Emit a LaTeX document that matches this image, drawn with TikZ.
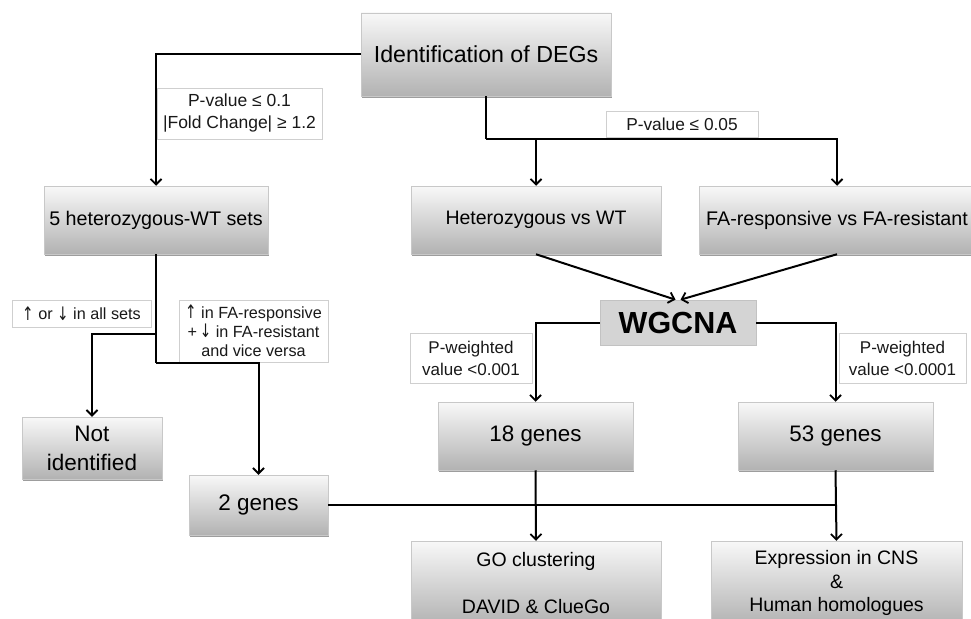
\documentclass[tikz,border=0pt]{standalone}
\usepackage{fontspec}
\setmainfont{Liberation Sans}
\newfontfamily\arrfont{DejaVu Sans}
\usetikzlibrary{arrows.meta,shadows,calc}
\definecolor{boxtop}{HTML}{F8F8F8}
\definecolor{boxmid}{HTML}{E4E4E4}
\definecolor{boxbot}{HTML}{B2B2B2}
\definecolor{boxedge}{HTML}{C8C8C8}
\definecolor{wgfill}{HTML}{D4D4D4}
\definecolor{wgedge}{HTML}{C2C2C2}
\definecolor{condedge}{HTML}{CFCFCF}
\newcommand{\fs}[2]{\fontsize{#1}{#2}\selectfont}
\newcommand{\upar}{\raisebox{-0.5pt}{\scalebox{0.85}[1.15]{\arrfont ↑}}}
\newcommand{\dnar}{\raisebox{-0.5pt}{\scalebox{0.85}[1.15]{\arrfont ↓}}}
\tikzset{
  mainbox/.style={rectangle, inner sep=0pt, top color=boxtop, middle color=boxmid, bottom color=boxbot,
    draw=boxedge, line width=0.5pt, align=center, text=black,
    drop shadow={shadow xshift=0.6pt, shadow yshift=-1.6pt, fill=gray!85, opacity=0.9}},
  condbox/.style={rectangle, inner sep=0pt, fill=white, draw=condedge, line width=0.8pt, align=center, text=black!90},
  conn/.style={line width=2pt, black},
  arr/.style={conn, -{Straight Barb[length=5.5pt,width=11pt,line width=1.8pt]}}
}
\begin{document}
\begin{tikzpicture}[x=1pt,y=-1pt]
\useasboundingbox (0,0) rectangle (971,618);
\fill[white] (0,0) rectangle (971,618);
\clip (0,0) rectangle (971,618);

% main boxes
\node[mainbox, minimum width=250pt, minimum height=83pt, font=\fs{23.2}{28}] (ident) at (486,54.5) {Identification of DEGs};
\node[mainbox, minimum width=224pt, minimum height=68pt, font=\fs{19.7}{24}] (het5) at (156,220) {5 heterozygous-WT sets};
\node[mainbox, minimum width=250pt, minimum height=68pt, font=\fs{19.5}{24}] (hetwt) at (536,220) {Heterozygous vs WT};
\node[mainbox, minimum width=276pt, minimum height=68pt, font=\fs{19.7}{24}] (fa) at (837,220) {FA-responsive vs FA-resistant};
\node[rectangle, inner sep=0pt, fill=wgfill, draw=wgedge, line width=0.6pt, minimum width=156pt, minimum height=45pt, font=\fs{30.5}{34}\bfseries] (wgcna) at (678,322.5) {WGCNA};
\node[mainbox, minimum width=195pt, minimum height=68pt, font=\fs{22.4}{27}] (g18) at (535.5,436) {18 genes};
\node[mainbox, minimum width=195pt, minimum height=68pt, font=\fs{22.4}{27}] (g53) at (835.5,436) {53 genes};
\node[mainbox, minimum width=140pt, minimum height=62pt, font=\fs{22.5}{29}] (notid) at (92,448) {Not\\identified};
\node[mainbox, minimum width=139pt, minimum height=60pt, font=\fs{22.5}{27}] (g2) at (258.5,505) {2 genes};
\node[mainbox, minimum width=250pt, minimum height=84pt, font=\fs{19.5}{23.5}] (go) at (536,583) {GO clustering\\[23.5pt]DAVID \& ClueGo};
\node[mainbox, minimum width=251pt, minimum height=84pt, font=\fs{19.5}{23.5}] (expr) at (836.5,583) {Expression in CNS\\\&\\Human homologues};

% condition labels
\node[condbox, minimum width=165pt, minimum height=51pt, font=\fs{17.5}{22}] (l1) at (239.5,113.5) {P-value ≤ 0.1\\|Fold Change| ≥ 1.2};
\node[condbox, minimum width=152pt, minimum height=26pt, font=\fs{17.3}{21}] (l2) at (682,124) {P-value ≤ 0.05};
\node[condbox, minimum width=139pt, minimum height=27pt, font=\fs{16.2}{19}] (l3) at (81.5,313.5) {\upar{} or \dnar{} in all sets};
\node[condbox, minimum width=149pt, minimum height=62pt, font=\fs{16.2}{19}] (l4) at (253.5,331) {\upar{} in FA-responsive\\+\,\dnar{} in FA-resistant\\and vice versa};
\node[condbox, minimum width=122pt, minimum height=50pt, font=\fs{17}{22}] (l5) at (471,358) {P-weighted\\value <0.001};
\node[condbox, minimum width=127pt, minimum height=50pt, font=\fs{17}{22}] (l6) at (902.5,358) {P-weighted\\value <0.0001};

% junctions
\coordinate (jA) at (486,139);
\coordinate (jB) at (156,334);
\coordinate (jC) at (156,363);

% connectors
\draw[arr] (ident.west) -| (het5.north);
\draw[conn] (ident.south) -- (jA);
\draw[arr] (jA) -| (hetwt.north);
\draw[arr] (jA) -| (fa.north);
\draw[arr] (hetwt.south) -- ([xshift=-2.5pt]wgcna.north);
\draw[arr] (fa.south) -- ([xshift=2.5pt]wgcna.north);
\draw[conn] (het5.south) -- (jC);
\draw[arr] (jB) -| (notid.north);
\draw[arr] (jC) -| (g2.north);
\draw[arr] (wgcna.west) -| (g18.north);
\draw[arr] (wgcna.east) -| (g53.north);
\draw[arr] (g18.south) -- (go.north);
\draw[arr] (g53.south) -- (expr.north);
\draw[conn] (g2.east) -- (g2.east -| g53.south);
\end{tikzpicture}
\end{document}
